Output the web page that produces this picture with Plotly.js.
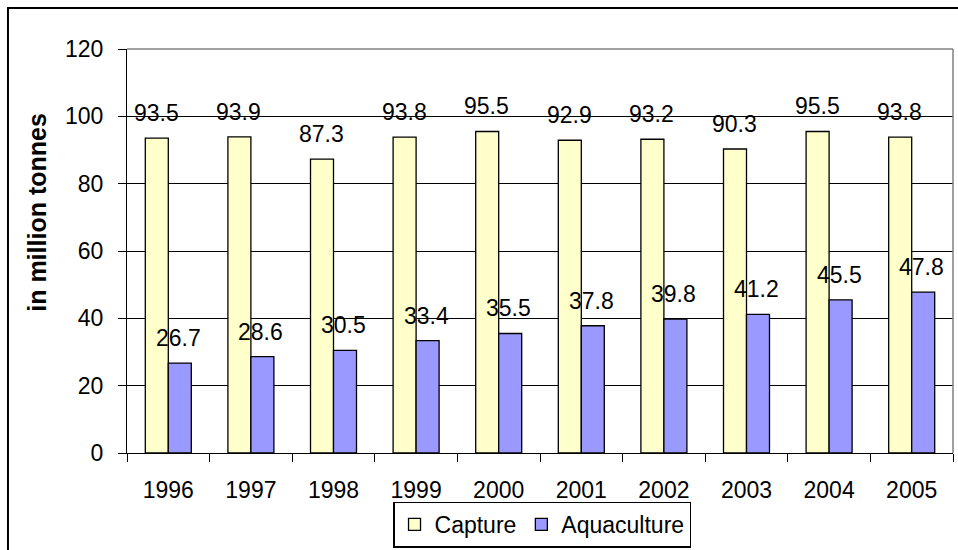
<!DOCTYPE html>
<html>
<head>
<meta charset="utf-8">
<script src="https://cdn.plot.ly/plotly-3.0.1.min.js"></script>
<style>
  html, body { margin: 0; padding: 0; background: #fff; overflow: hidden; }
  #chart { width: 958px; height: 550px; }
</style>
</head>
<body>
<div id="chart"></div>
<script>
const years = ['1996','1997','1998','1999','2000','2001','2002','2003','2004','2005'];
const capture = [93.5, 93.9, 87.3, 93.8, 95.5, 92.9, 93.2, 90.3, 95.5, 93.8];
const aquaculture = [26.7, 28.6, 30.5, 33.4, 35.5, 37.8, 39.8, 41.2, 45.5, 47.8];
const yTicks = [0, 20, 40, 60, 80, 100, 120];
const seriesNames = ['Capture', 'Aquaculture'];
const yTitle = 'in million tonnes';

const FONT = 'Liberation Sans, Arial, sans-serif';

const traces = [
  {
    type: 'bar', name: seriesNames[0], x: years, y: capture,
    marker: { color: '#FFFFCC', line: { color: '#000', width: 1.3 } },
    hoverinfo: 'skip'
  },
  {
    type: 'bar', name: seriesNames[1], x: years, y: aquaculture,
    marker: { color: '#9999FF', line: { color: '#000', width: 1.3 } },
    hoverinfo: 'skip'
  }
];

const annotations = [];
[capture, aquaculture].forEach((vals, si) => {
  vals.forEach((v, i) => {
    annotations.push({
      x: i, y: v, xref: 'x', yref: 'y',
      text: v.toFixed(1), showarrow: false,
      xanchor: 'center', yanchor: 'middle',
      xshift: si === 0 ? -12 : 10, yshift: 25,
      font: { family: FONT, size: 23, color: '#000' }
    });
  });
});
annotations.push({
  xref: 'paper', yref: 'paper', x: -0.109, y: 0.597,
  text: '<b>' + yTitle + '</b>', textangle: -90, showarrow: false,
  xanchor: 'center', yanchor: 'middle',
  font: { family: FONT, size: 25, color: '#000' }
});

const layout = {
  width: 958, height: 550,
  margin: { l: 127, r: 5, t: 49, b: 97, autoexpand: false },
  paper_bgcolor: '#fff', plot_bgcolor: '#fff',
  font: { family: FONT, size: 22, color: '#000' },
  barmode: 'group', bargap: 0.443, bargroupgap: 0,
  showlegend: true,
  legend: {
    orientation: 'h', xref: 'container', yref: 'container',
    x: 0.566, y: 0.088, xanchor: 'center', yanchor: 'top',
    bordercolor: '#000', borderwidth: 1.3, bgcolor: '#fff',
    font: { family: FONT, size: 23, color: '#000' },
    itemclick: false, itemdoubleclick: false
  },
  xaxis: {
    type: 'category', categoryorder: 'array', categoryarray: years,
    range: [-0.5, years.length - 0.5], autorange: false, automargin: false,
    tickson: 'boundaries', ticks: 'outside', ticklen: 8,
    tickcolor: '#000', tickwidth: 1, showline: true, linecolor: '#000', linewidth: 1,
    showgrid: false, zeroline: false, ticklabelstandoff: 16, tickangle: 0,
    tickfont: { family: FONT, size: 23, color: '#000' }
  },
  yaxis: {
    range: [0, 120], autorange: false, automargin: false,
    tickvals: yTicks, ticktext: yTicks.map(String),
    ticks: 'outside', ticklen: 8, tickcolor: '#000', tickwidth: 1,
    showline: true, linecolor: '#000', linewidth: 1,
    showgrid: true, gridcolor: '#000', gridwidth: 1, zeroline: false,
    ticklabelstandoff: 10,
    tickfont: { family: FONT, size: 23, color: '#000' }
  },
  shapes: [
    { type: 'line', xref: 'paper', yref: 'paper', x0: 0, x1: 1, y0: 1, y1: 1,
      line: { color: '#808080', width: 1.5 }, layer: 'above' },
    { type: 'line', xref: 'paper', yref: 'paper', x0: 1, x1: 1, y0: 0, y1: 1,
      line: { color: '#808080', width: 1.5 }, layer: 'above' },
    { type: 'rect', xref: 'paper', yref: 'paper', x0: -0.1441, x1: 1.2, y0: -0.5, y1: 1.1015,
      line: { color: '#000', width: 2 }, fillcolor: 'rgba(0,0,0,0)', layer: 'above' }
  ],
  annotations: annotations
};

Plotly.newPlot('chart', traces, layout, { staticPlot: true, displayModeBar: false });
</script>
</body>
</html>
